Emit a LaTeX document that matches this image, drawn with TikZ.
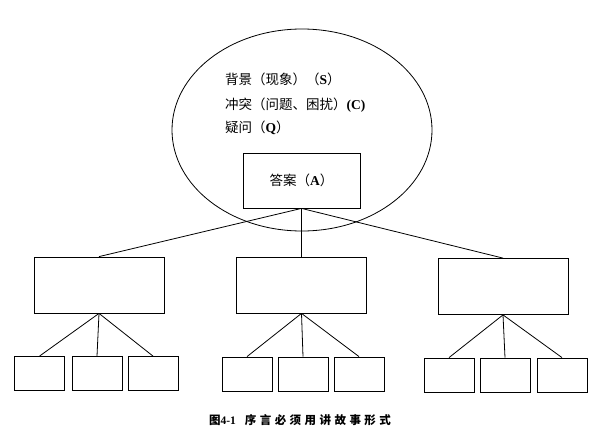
\documentclass[tikz,border=0pt]{standalone}
\usepackage{fontspec}
\usetikzlibrary{shapes.geometric}
\newfontfamily\cjk{Noto Sans CJK SC}
\newfontfamily\cjkspaced[LetterSpace=30]{Noto Sans CJK SC}
\newfontfamily\lat{Liberation Serif}
\begin{document}
\begin{tikzpicture}[x=1pt,y=-1pt,
  lw/.style={line width=0.8pt},
  box/.style={draw,lw,inner sep=0pt},
  midbox/.style={box,minimum width=130pt,minimum height=56pt},
  leaf/.style={box,minimum width=50pt,minimum height=34pt},
  txt/.style={anchor=west,inner sep=0pt,font=\cjk\fontsize{13.5}{16}\selectfont},
  link/.style={lw}]
\useasboundingbox (0,0) rectangle (605,442);
\node[draw,lw,ellipse,minimum width=260pt,minimum height=202pt,inner sep=0pt] (circ) at (302,130) {};
\node[txt] (t1) at (225,79) {背景（现象）（{\lat\bfseries S}）};
\node[txt] (t2) at (225,105) {冲突（问题、困扰）{\lat\bfseries (C)}};
\node[txt] (t3) at (225,128) {疑问（{\lat\bfseries Q}）};
\node[box,minimum width=117pt,minimum height=55pt,font=\cjk\fontsize{13.5}{16}\selectfont] (ans) at (301.5,180.5) {答案（{\lat\bfseries A}）};
% mid boxes
\node[midbox] (m1) at (99,285) {};
\node[midbox] (m2) at (301.5,285) {};
\node[midbox] (m3) at (503,286.5) {};
% leaves
\node[leaf] (l11) at (39.5,373.5) {};
\node[leaf] (l12) at (97,373.5) {};
\node[leaf] (l13) at (153,373.5) {};
\node[leaf] (l21) at (247,374) {};
\node[leaf] (l22) at (303,374) {};
\node[leaf] (l23) at (359,374) {};
\node[leaf] (l31) at (449,375) {};
\node[leaf] (l32) at (505,375) {};
\node[leaf] (l33) at (562,375) {};
% links
\draw[link] (ans.south) -- (m1.north);
\draw[link] (ans.south) -- (m2.north);
\draw[link] (ans.south) -- (m3.north);
\foreach \m/\a/\b/\c in {m1/l11/l12/l13,m2/l21/l22/l23,m3/l31/l32/l33}{
  \draw[link] (\m.south) -- (\a.north);
  \draw[link] (\m.south) -- (\b.north);
  \draw[link] (\m.south) -- (\c.north);
}
\node[inner sep=0pt,font=\fontsize{11.5}{13}\selectfont] (cap) at (300,420)
  {{\cjk\bfseries 图}{\lat\bfseries 4-1}\hspace{9pt}{\cjkspaced\bfseries 序言必须用讲故事形式}};
\end{tikzpicture}
\end{document}
